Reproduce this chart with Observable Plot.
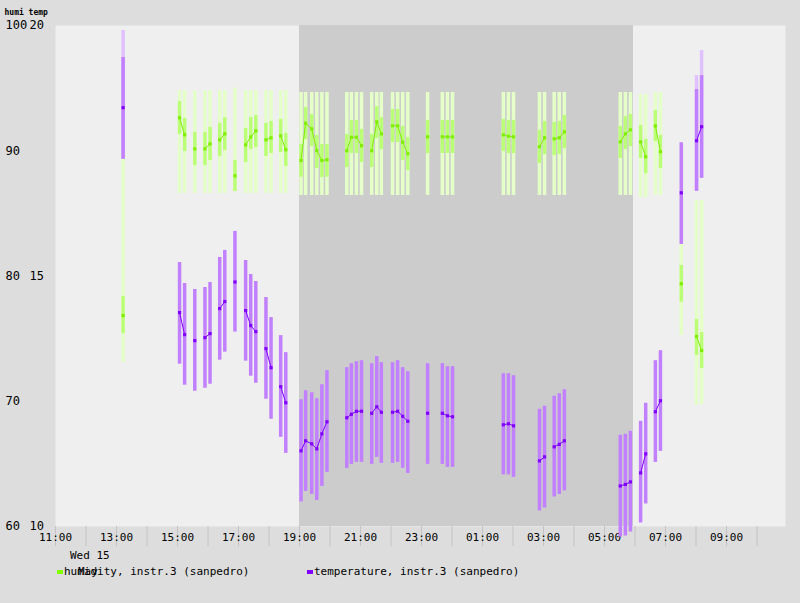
<!DOCTYPE html>
<html>
<head>
<meta charset="utf-8">
<script src="https://cdn.jsdelivr.net/npm/d3@7"></script>
<script src="https://cdn.jsdelivr.net/npm/@observablehq/plot@0.6"></script>
<style>
body{margin:0;background:#dddddd;font-family:"DejaVu Sans Mono",monospace;}
#wrap{position:relative;width:800px;height:603px;}
.lab{position:absolute;font-size:11px;color:#000;white-space:pre;}
.sw{display:inline-block;width:6px;height:4px;vertical-align:middle;margin-right:1px;}
</style>
</head>
<body>
<div id="wrap"><div id="chart"></div>
<div class="lab" style="left:70px;top:549px">Wed 15</div>
<div class="lab" style="left:78px;top:565px">May</div>
<div class="lab" style="left:57px;top:565px"><span class="sw" style="background:#80ff00"></span>humidity, instr.3 (sanpedro)</div>
<div class="lab" style="left:307px;top:565px"><span class="sw" style="background:#8000ff"></span>temperature, instr.3 (sanpedro)</div>
</div>
<script>
const times = ["05-15T13:13","05-15T15:04","05-15T15:14","05-15T15:34","05-15T15:54","05-15T16:04","05-15T16:23","05-15T16:33","05-15T16:53","05-15T17:14","05-15T17:24","05-15T17:34","05-15T17:54","05-15T18:04","05-15T18:23","05-15T18:33","05-15T19:03","05-15T19:12","05-15T19:24","05-15T19:34","05-15T19:44","05-15T19:54","05-15T20:33","05-15T20:42","05-15T20:52","05-15T21:02","05-15T21:22","05-15T21:32","05-15T21:41","05-15T22:03","05-15T22:13","05-15T22:23","05-15T22:33","05-15T23:12","05-15T23:41","05-15T23:51","05-16T00:01","05-16T01:41","05-16T01:51","05-16T02:01","05-16T02:52","05-16T03:02","05-16T03:21","05-16T03:31","05-16T03:41","05-16T05:31","05-16T05:41","05-16T05:51","05-16T06:11","05-16T06:21","05-16T06:40","05-16T06:50","05-16T07:31","05-16T08:01","05-16T08:11"];
const humMean = [76.85,92.63,91.27,90.15,90.15,90.55,90.87,91.35,88.0,90.47,91.1,91.59,90.87,91.03,91.19,90.08,89.22,92.2,91.75,90.02,89.22,89.28,90.0,91.08,91.08,90.4,90.0,92.31,91.35,91.99,91.99,90.68,89.76,91.11,91.11,91.11,91.11,91.27,91.16,91.11,90.32,91.03,90.95,91.03,91.51,90.71,91.35,91.67,90.71,89.52,91.99,89.92,79.38,75.17,74.05];
const humLo = [75.41,91.3,89.94,88.82,88.82,89.22,89.54,90.02,86.75,89.06,90.1,90.26,89.54,89.78,89.86,88.74,87.89,90.9,90.34,88.58,87.86,87.89,88.66,89.78,89.78,89.06,88.66,90.98,90.1,90.66,90.66,89.22,88.42,89.78,89.78,89.78,89.78,89.94,89.78,89.78,88.98,89.7,89.62,89.7,90.18,89.38,90.1,90.34,89.38,88.18,90.74,88.58,77.91,73.65,72.61];
const humHi = [78.36,93.93,92.57,91.46,91.46,91.86,92.18,92.65,89.22,91.78,92.65,92.81,92.18,92.34,92.5,91.38,90.5,93.45,92.89,91.22,90.5,90.5,91.3,92.42,92.42,91.7,91.3,93.53,92.65,93.29,93.29,91.94,91.06,92.42,92.42,92.42,92.42,92.5,92.42,92.42,91.62,92.34,92.26,92.34,92.81,91.94,92.73,92.89,92.02,90.9,93.21,91.22,80.84,76.53,75.49];
const humMin = [73.1,86.6,86.6,86.6,86.6,86.6,86.6,86.6,86.75,86.6,86.6,86.6,86.6,86.6,86.6,86.6,86.43,86.43,86.43,86.43,86.43,86.43,86.43,86.43,86.43,86.43,86.43,86.43,86.43,86.43,86.43,86.43,86.43,86.43,86.43,86.43,86.43,86.43,86.43,86.43,86.43,86.43,86.43,86.43,86.43,86.43,86.43,86.43,86.27,86.27,86.43,86.43,75.25,69.66,69.74];
const humMax = [89.3,94.8,94.8,94.8,94.8,94.8,94.8,94.8,95.0,94.8,94.8,94.8,94.8,94.8,94.8,94.8,94.65,94.65,94.65,94.65,94.65,94.65,94.65,94.65,94.65,94.65,94.65,94.65,94.65,94.65,94.65,94.65,94.65,94.65,94.65,94.65,94.65,94.65,94.65,94.65,94.65,94.65,94.65,94.65,94.65,94.65,94.65,94.65,94.5,94.5,94.65,94.65,82.52,86.03,86.03];
const tempMean = [18.36,14.27,13.83,13.71,13.77,13.85,14.35,14.49,14.88,14.31,14.01,13.89,13.55,13.17,12.79,12.47,11.51,11.71,11.65,11.55,11.85,12.09,12.17,12.24,12.3,12.3,12.26,12.39,12.28,12.28,12.3,12.2,12.1,12.26,12.26,12.21,12.19,12.03,12.05,12.01,11.31,11.39,11.59,11.64,11.71,10.81,10.84,10.89,11.07,11.45,12.29,12.51,16.66,17.7,17.98];
const tempLo = [17.33,13.24,12.82,12.7,12.76,12.84,13.32,13.48,13.88,13.3,13.0,12.86,12.54,12.14,11.78,11.46,10.49,10.7,10.64,10.52,10.8,11.08,11.16,11.24,11.28,11.28,11.24,11.38,11.26,11.26,11.28,11.16,11.06,11.24,11.24,11.18,11.18,11.03,11.03,10.98,10.31,10.37,10.59,10.64,10.71,9.79,9.81,9.89,10.07,10.45,11.28,11.5,15.63,16.69,16.95];
const tempHi = [19.36,15.27,14.85,14.73,14.77,14.87,15.37,15.51,15.89,15.31,15.03,14.89,14.57,14.17,13.81,13.47,12.53,12.71,12.67,12.55,12.83,13.11,13.17,13.25,13.29,13.31,13.25,13.39,13.27,13.27,13.31,13.17,13.09,13.25,13.25,13.19,13.19,13.05,13.05,13.01,12.34,12.4,12.6,12.65,12.73,11.82,11.84,11.9,12.1,12.46,13.31,13.51,17.66,18.72,19.0];
const tempMax = [19.9,null,null,null,null,null,null,null,null,null,null,null,null,null,null,null,null,null,null,null,null,null,null,null,null,null,null,null,null,null,null,null,null,null,null,null,null,null,null,null,null,null,null,null,null,null,null,null,null,null,null,null,null,19.0,19.5];
const humiTicks = [60,70,80,90,100];
const tempTicks = [10,15,20];
const night = [{start:"2019-05-15T19:00", end:"2019-05-16T05:57"}];

const toH = t => 60 + (t - 10) * 4; // temp on humidity scale
let seg = 0;
const data = times.map((t, i) => {
  const date = new Date("2019-" + t);
  if (i > 0 && date - new Date("2019-" + times[i-1]) > 15*60000) seg++;
  return {date, seg, hm: humMean[i], hl: humLo[i], hh: humHi[i], hmin: humMin[i], hmax: humMax[i],
    tm: tempMean[i], tl: tempLo[i], th: tempHi[i], tmax: tempMax[i]};
});
const nightRows = night.map(d => ({start: new Date(d.start), end: new Date(d.end)}));
const hourTicks = d3.timeHour.range(new Date("2019-05-15T11:00"), new Date("2019-05-16T10:30"));
const labelTicks = hourTicks.filter(d => d.getHours() % 2 === 1);

const chart = Plot.plot({
  width: 800,
  height: 555,
  marginLeft: 55,
  marginRight: 15,
  marginTop: 25,
  marginBottom: 29,
  style: {background: "#dddddd", fontFamily: "DejaVu Sans Mono, monospace", fontSize: "11px", color: "black", overflow: "visible"},
  x: {type: "time", domain: [new Date("2019-05-15T11:00"), new Date("2019-05-16T10:56")], axis: null},
  y: {domain: [60, 100], axis: null},
  marks: [
    Plot.frame({fill: "#efefef", stroke: null}),
    Plot.rectY(nightRows, {x1: "start", x2: "end", y1: 60, y2: 100, fill: "#cccccc"}),
    Plot.ruleX(hourTicks, {x: d => d, y1: 60, y2: 58.4, stroke: "#c4c4c4"}),
    Plot.text(labelTicks, {x: d => d, y: 60, dy: 11, text: d => d3.timeFormat("%H:%M")(d), fill: "black"}),
    Plot.text(humiTicks, {y: d => d, frameAnchor: "left", dx: -50, textAnchor: "start", text: String, fontSize: 12}),
    Plot.text(tempTicks, {y: d => toH(d), frameAnchor: "left", dx: -26, textAnchor: "start", text: String, fontSize: 12}),
    Plot.text(["humi temp"], {frameAnchor: "top-left", dx: -51, dy: -16, textAnchor: "start", text: d => d, fontSize: 8, fontWeight: "bold"}),
    Plot.ruleX(data, {x: "date", y1: "hmin", y2: "hmax", stroke: "#e4ffc8", strokeWidth: 3.5}),
    Plot.ruleX(data, {x: "date", y1: "hl", y2: "hh", stroke: "#bbff77", strokeWidth: 3.5}),
    Plot.ruleX(data.filter(d => d.tmax != null), {x: "date", y1: d => toH(d.tl), y2: d => toH(d.tmax), stroke: "#e0c0ff", strokeWidth: 3.5}),
    Plot.ruleX(data, {x: "date", y1: d => toH(d.tl), y2: d => toH(d.th), stroke: "#c080ff", strokeWidth: 3.5}),
    Plot.line(data, {x: "date", y: "hm", z: "seg", stroke: "#80ee00", strokeWidth: 1}),
    Plot.dot(data, {x: "date", y: "hm", symbol: "square", r: 1.8, fill: "#80ee00"}),
    Plot.line(data, {x: "date", y: d => toH(d.tm), z: "seg", stroke: "#8000ff", strokeWidth: 1}),
    Plot.dot(data, {x: "date", y: d => toH(d.tm), symbol: "square", r: 1.8, fill: "#8000ff"})
  ]
});
document.getElementById("chart").append(chart);
</script>
</body>
</html>
